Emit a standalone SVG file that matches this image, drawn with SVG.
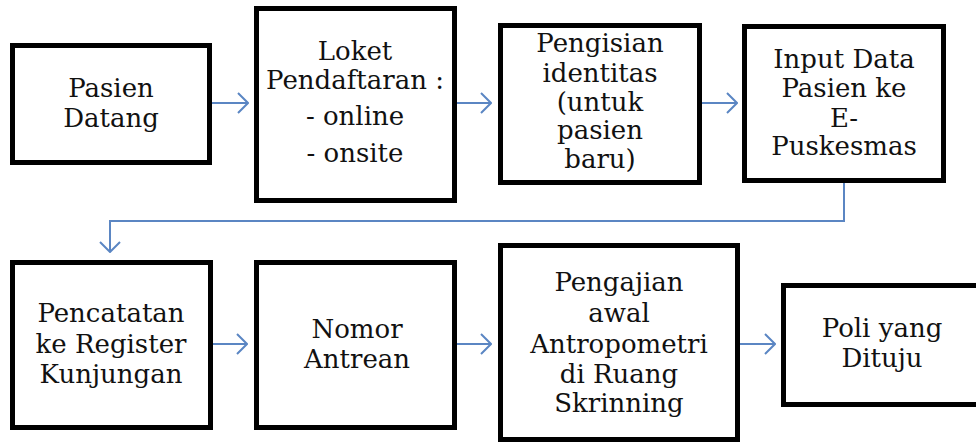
<svg xmlns="http://www.w3.org/2000/svg" width="976" height="443" viewBox="0 0 976 443">
<style>
.box{fill:#fff;stroke:#000;stroke-width:5}
.t{font-family:"DejaVu Serif","Liberation Serif",serif;font-size:26px;fill:#111;text-anchor:middle}
.c{fill:none;stroke:#5b86c3;stroke-width:2}
</style>
<defs>
<marker id="ah" viewBox="0 0 12 22" refX="11" refY="11" markerWidth="12" markerHeight="22" markerUnits="userSpaceOnUse" orient="auto">
<path d="M1,1 L11,11 L1,21" fill="none" stroke="#5b86c3" stroke-width="2"/>
</marker>
</defs>
<rect width="976" height="443" fill="#fff"/>
<g id="connectors">
<line class="c" x1="212" y1="103" x2="248" y2="103" marker-end="url(#ah)"/>
<line class="c" x1="457" y1="103" x2="491" y2="103" marker-end="url(#ah)"/>
<line class="c" x1="702" y1="103" x2="737" y2="103" marker-end="url(#ah)"/>
<polyline class="c" points="844,183 844,221 110,221 110,252" marker-end="url(#ah)"/>
<line class="c" x1="213" y1="344" x2="247" y2="344" marker-end="url(#ah)"/>
<line class="c" x1="457" y1="344" x2="491" y2="344" marker-end="url(#ah)"/>
<line class="c" x1="740" y1="344" x2="775" y2="344" marker-end="url(#ah)"/>
</g>
<g id="n1"><rect class="box" x="12.5" y="45.5" width="197" height="117"/>
<text class="t" x="111" y="97">Pasien</text><text class="t" x="111" y="127">Datang</text></g>
<g id="n2"><rect class="box" x="256.5" y="8.5" width="198" height="192"/>
<text class="t" x="355" y="60">Loket</text><text class="t" x="355" y="89">Pendaftaran :</text>
<text class="t" x="355" y="125">- online</text><text class="t" x="355" y="162">- onsite</text></g>
<g id="n3"><rect class="box" x="500.5" y="25.5" width="199" height="157"/>
<text class="t" x="600" y="52">Pengisian</text><text class="t" x="600" y="82">identitas</text>
<text class="t" x="600" y="111">(untuk</text><text class="t" x="600" y="139">pasien</text><text class="t" x="600" y="168">baru)</text></g>
<g id="n4"><rect class="box" x="744.5" y="26.5" width="199" height="154"/>
<text class="t" x="844" y="68">Input Data</text><text class="t" x="844" y="97">Pasien ke</text>
<text class="t" x="844" y="127">E-</text><text class="t" x="844" y="155">Puskesmas</text></g>
<g id="n5"><rect class="box" x="12.5" y="262.5" width="198" height="165"/>
<text class="t" x="111" y="322">Pencatatan</text><text class="t" x="111" y="353">ke Register</text><text class="t" x="111" y="383">Kunjungan</text></g>
<g id="n6"><rect class="box" x="256.5" y="262.5" width="198" height="165"/>
<text class="t" x="357" y="338">Nomor</text><text class="t" x="357" y="368">Antrean</text></g>
<g id="n7"><rect class="box" x="500.5" y="245.5" width="237" height="194"/>
<text class="t" x="619" y="291">Pengajian</text><text class="t" x="619" y="322">awal</text>
<text class="t" x="619" y="353">Antropometri</text><text class="t" x="619" y="383">di Ruang</text><text class="t" x="619" y="412">Skrinning</text></g>
<g id="n8"><rect class="box" x="783.5" y="285.5" width="210" height="119"/>
<text class="t" x="882" y="337">Poli yang</text><text class="t" x="882" y="367">Dituju</text></g>
</svg>
